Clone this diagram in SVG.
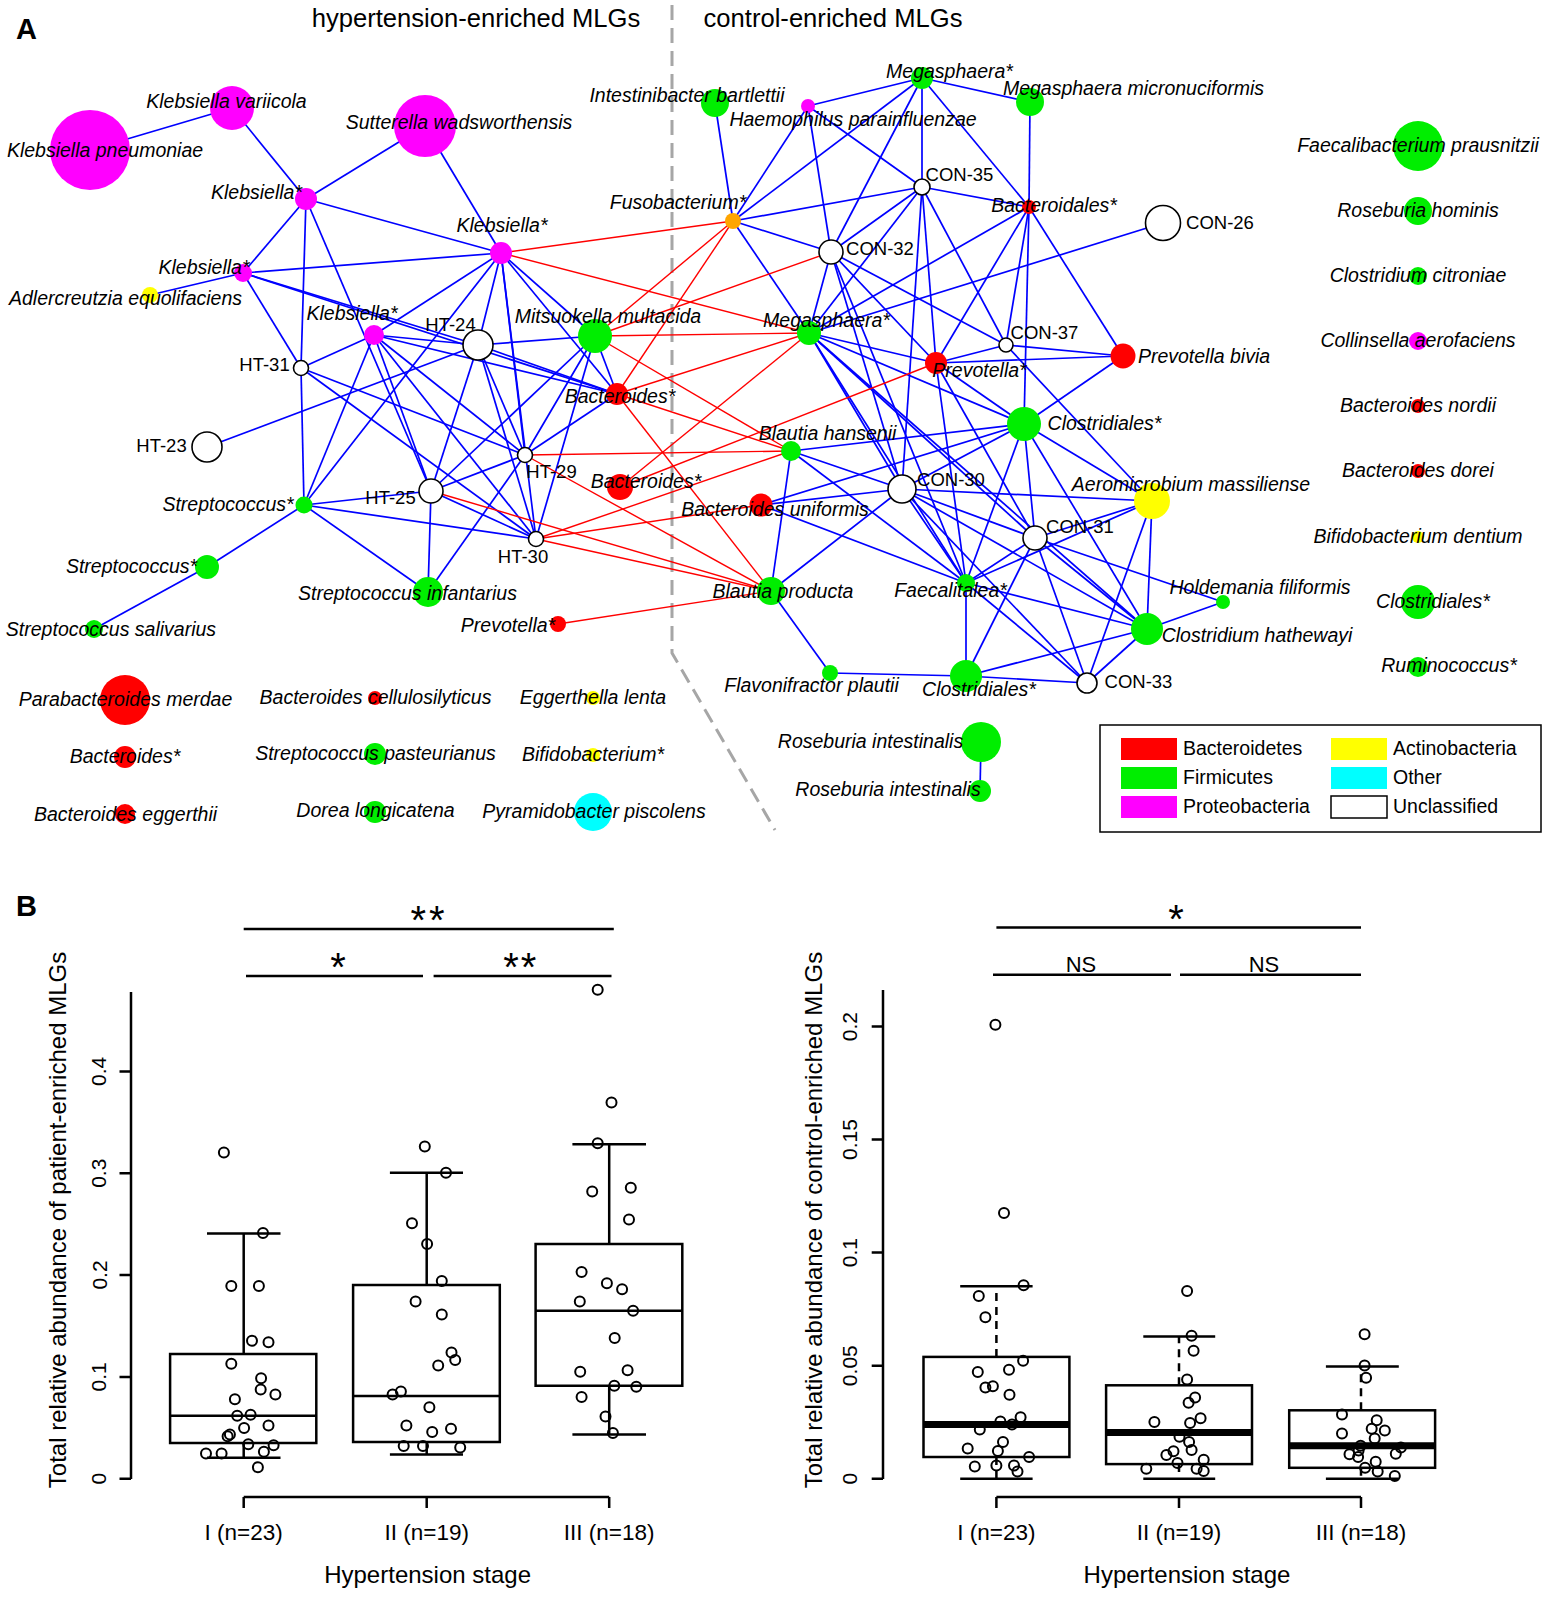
<svg xmlns="http://www.w3.org/2000/svg" width="1548" height="1597" viewBox="0 0 1548 1597">
<style>
text{font-family:"Liberation Sans",Arial,sans-serif;fill:#000}
.i{font-style:italic;font-size:19.5px;text-anchor:middle}
.c{font-size:18.5px;text-anchor:middle}
.h{font-size:25.6px;text-anchor:middle}
.p{font-size:29px;font-weight:bold}
.lg{font-size:19.5px}
.b line{stroke:#0000ff;stroke-width:1.7}
.r line{stroke:#ff0000;stroke-width:1.4}
.mg{fill:#ff00ff}.gr{fill:#00ee00}.rd{fill:#ff0000}.ye{fill:#ffff00}.or{fill:#ffa500}.cy{fill:#00ffff}
.wh{fill:#fff;stroke:#000;stroke-width:1.6}
.ax{stroke:#000;stroke-width:2.5;fill:none}
.bx{stroke:#000;stroke-width:2.5;fill:none}
.pt{fill:none;stroke:#000;stroke-width:2}
.tk{font-size:21px;text-anchor:middle}
.al{font-size:24px;text-anchor:middle}
.cl{font-size:22.5px;text-anchor:middle}
.st{font-size:40px}
.ns{font-size:22px;text-anchor:middle}
.dw{stroke-dasharray:8 6}
</style>

<text class="p" x="16" y="39">A</text>
<text class="h" x="476" y="27">hypertension-enriched MLGs</text>
<text class="h" x="833" y="27">control-enriched MLGs</text>
<polyline points="672,5 672,653 775,830" fill="none" stroke="#a6a6a6" stroke-width="3" stroke-dasharray="15 8"/>

<g id="edges">
<g class="b">
<line x1="90" y1="150" x2="232" y2="108"/>
<line x1="232" y1="108" x2="306" y2="199"/>
<line x1="425" y1="126" x2="306" y2="199"/>
<line x1="425" y1="126" x2="501" y2="253"/>
<line x1="306" y1="199" x2="501" y2="253"/>
<line x1="306" y1="199" x2="243" y2="273"/>
<line x1="306" y1="199" x2="301" y2="368"/>
<line x1="301" y1="368" x2="304" y2="505"/>
<line x1="306" y1="199" x2="431" y2="491"/>
<line x1="243" y1="273" x2="150" y2="295"/>
<line x1="243" y1="273" x2="501" y2="253"/>
<line x1="243" y1="273" x2="301" y2="368"/>
<line x1="243" y1="273" x2="478" y2="345"/>
<line x1="243" y1="273" x2="617" y2="394"/>
<line x1="501" y1="253" x2="374" y2="335"/>
<line x1="501" y1="253" x2="304" y2="505"/>
<line x1="501" y1="253" x2="478" y2="345"/>
<line x1="501" y1="253" x2="525" y2="455"/>
<line x1="501" y1="253" x2="536" y2="539"/>
<line x1="501" y1="253" x2="595" y2="336"/>
<line x1="501" y1="253" x2="617" y2="394"/>
<line x1="374" y1="335" x2="301" y2="368"/>
<line x1="374" y1="335" x2="478" y2="345"/>
<line x1="374" y1="335" x2="617" y2="394"/>
<line x1="374" y1="335" x2="525" y2="455"/>
<line x1="374" y1="335" x2="536" y2="539"/>
<line x1="374" y1="335" x2="431" y2="491"/>
<line x1="374" y1="335" x2="304" y2="505"/>
<line x1="478" y1="345" x2="595" y2="336"/>
<line x1="478" y1="345" x2="207" y2="447"/>
<line x1="478" y1="345" x2="431" y2="491"/>
<line x1="478" y1="345" x2="536" y2="539"/>
<line x1="478" y1="345" x2="525" y2="455"/>
<line x1="478" y1="345" x2="617" y2="394"/>
<line x1="301" y1="368" x2="525" y2="455"/>
<line x1="301" y1="368" x2="536" y2="539"/>
<line x1="304" y1="505" x2="431" y2="491"/>
<line x1="304" y1="505" x2="536" y2="539"/>
<line x1="304" y1="505" x2="428" y2="592"/>
<line x1="304" y1="505" x2="207" y2="567"/>
<line x1="207" y1="567" x2="94" y2="629"/>
<line x1="431" y1="491" x2="525" y2="455"/>
<line x1="431" y1="491" x2="536" y2="539"/>
<line x1="431" y1="491" x2="428" y2="592"/>
<line x1="431" y1="491" x2="595" y2="336"/>
<line x1="428" y1="592" x2="525" y2="455"/>
<line x1="595" y1="336" x2="617" y2="394"/>
<line x1="595" y1="336" x2="525" y2="455"/>
<line x1="595" y1="336" x2="536" y2="539"/>
<line x1="617" y1="394" x2="525" y2="455"/>
<line x1="715" y1="103" x2="733" y2="221"/>
<line x1="808" y1="106" x2="733" y2="221"/>
<line x1="808" y1="106" x2="922" y2="78"/>
<line x1="808" y1="106" x2="922" y2="187"/>
<line x1="808" y1="106" x2="831" y2="252"/>
<line x1="922" y1="78" x2="733" y2="221"/>
<line x1="922" y1="78" x2="831" y2="252"/>
<line x1="922" y1="78" x2="922" y2="187"/>
<line x1="922" y1="78" x2="1030" y2="102"/>
<line x1="922" y1="78" x2="1029" y2="207"/>
<line x1="1030" y1="102" x2="1029" y2="207"/>
<line x1="733" y1="221" x2="922" y2="187"/>
<line x1="733" y1="221" x2="831" y2="252"/>
<line x1="733" y1="221" x2="809" y2="333"/>
<line x1="922" y1="187" x2="831" y2="252"/>
<line x1="922" y1="187" x2="1029" y2="207"/>
<line x1="922" y1="187" x2="809" y2="333"/>
<line x1="922" y1="187" x2="902" y2="489"/>
<line x1="922" y1="187" x2="936" y2="363"/>
<line x1="922" y1="187" x2="1006" y2="345"/>
<line x1="831" y1="252" x2="809" y2="333"/>
<line x1="831" y1="252" x2="1006" y2="345"/>
<line x1="831" y1="252" x2="902" y2="489"/>
<line x1="831" y1="252" x2="936" y2="363"/>
<line x1="831" y1="252" x2="966" y2="583"/>
<line x1="1029" y1="207" x2="809" y2="333"/>
<line x1="1029" y1="207" x2="936" y2="363"/>
<line x1="1029" y1="207" x2="1006" y2="345"/>
<line x1="1029" y1="207" x2="1024" y2="424"/>
<line x1="1029" y1="207" x2="1123" y2="356"/>
<line x1="1163" y1="223" x2="809" y2="333"/>
<line x1="1006" y1="345" x2="936" y2="363"/>
<line x1="1006" y1="345" x2="1123" y2="356"/>
<line x1="1006" y1="345" x2="1152" y2="501"/>
<line x1="936" y1="363" x2="1123" y2="356"/>
<line x1="1123" y1="356" x2="1024" y2="424"/>
<line x1="809" y1="333" x2="936" y2="363"/>
<line x1="809" y1="333" x2="902" y2="489"/>
<line x1="809" y1="333" x2="966" y2="583"/>
<line x1="809" y1="333" x2="1035" y2="538"/>
<line x1="809" y1="333" x2="1024" y2="424"/>
<line x1="809" y1="333" x2="1147" y2="629"/>
<line x1="936" y1="363" x2="1024" y2="424"/>
<line x1="936" y1="363" x2="1035" y2="538"/>
<line x1="936" y1="363" x2="966" y2="583"/>
<line x1="1024" y1="424" x2="791" y2="451"/>
<line x1="1024" y1="424" x2="761" y2="505"/>
<line x1="1024" y1="424" x2="902" y2="489"/>
<line x1="1024" y1="424" x2="966" y2="583"/>
<line x1="1024" y1="424" x2="1035" y2="538"/>
<line x1="1024" y1="424" x2="1152" y2="501"/>
<line x1="1024" y1="424" x2="1147" y2="629"/>
<line x1="791" y1="451" x2="771" y2="591"/>
<line x1="791" y1="451" x2="902" y2="489"/>
<line x1="791" y1="451" x2="966" y2="583"/>
<line x1="761" y1="505" x2="902" y2="489"/>
<line x1="761" y1="505" x2="966" y2="583"/>
<line x1="771" y1="591" x2="902" y2="489"/>
<line x1="771" y1="591" x2="830" y2="673"/>
<line x1="902" y1="489" x2="1152" y2="501"/>
<line x1="902" y1="489" x2="1035" y2="538"/>
<line x1="902" y1="489" x2="966" y2="583"/>
<line x1="902" y1="489" x2="1147" y2="629"/>
<line x1="902" y1="489" x2="1087" y2="683"/>
<line x1="1035" y1="538" x2="1152" y2="501"/>
<line x1="1035" y1="538" x2="966" y2="583"/>
<line x1="1035" y1="538" x2="966" y2="676"/>
<line x1="1035" y1="538" x2="1087" y2="683"/>
<line x1="1035" y1="538" x2="1147" y2="629"/>
<line x1="1035" y1="538" x2="1223" y2="602"/>
<line x1="966" y1="583" x2="1152" y2="501"/>
<line x1="966" y1="583" x2="966" y2="676"/>
<line x1="966" y1="583" x2="1147" y2="629"/>
<line x1="966" y1="583" x2="1087" y2="683"/>
<line x1="1152" y1="501" x2="1147" y2="629"/>
<line x1="1152" y1="501" x2="1087" y2="683"/>
<line x1="1147" y1="629" x2="1223" y2="602"/>
<line x1="1147" y1="629" x2="1087" y2="683"/>
<line x1="1147" y1="629" x2="966" y2="676"/>
<line x1="966" y1="676" x2="1087" y2="683"/>
<line x1="966" y1="676" x2="830" y2="673"/>
<line x1="981" y1="742" x2="980" y2="791"/>
</g>
<g class="r">
<line x1="501" y1="253" x2="733" y2="221"/>
<line x1="501" y1="253" x2="809" y2="333"/>
<line x1="733" y1="221" x2="595" y2="336"/>
<line x1="733" y1="221" x2="617" y2="394"/>
<line x1="831" y1="252" x2="595" y2="336"/>
<line x1="595" y1="336" x2="809" y2="333"/>
<line x1="809" y1="333" x2="617" y2="394"/>
<line x1="595" y1="336" x2="791" y2="451"/>
<line x1="617" y1="394" x2="791" y2="451"/>
<line x1="617" y1="394" x2="771" y2="591"/>
<line x1="809" y1="333" x2="620" y2="487"/>
<line x1="620" y1="487" x2="936" y2="363"/>
<line x1="525" y1="455" x2="791" y2="451"/>
<line x1="525" y1="455" x2="771" y2="591"/>
<line x1="431" y1="491" x2="771" y2="591"/>
<line x1="536" y1="539" x2="771" y2="591"/>
<line x1="536" y1="539" x2="761" y2="505"/>
<line x1="536" y1="539" x2="791" y2="451"/>
<line x1="558" y1="624" x2="771" y2="591"/>
</g>
</g>

<g id="n-KP"><circle class="mg" cx="90" cy="150" r="40"/><text class="i" x="105" y="157">Klebsiella pneumoniae</text></g>
<g id="n-KV"><circle class="mg" cx="232" cy="108" r="22"/><text class="i" x="226.5" y="108">Klebsiella variicola</text></g>
<g id="n-SW"><circle class="mg" cx="425" cy="126" r="31"/><text class="i" x="459" y="129">Sutterella wadsworthensis</text></g>
<g id="n-K1"><circle class="mg" cx="306" cy="199" r="11"/><text class="i" x="256.5" y="199">Klebsiella*</text></g>
<g id="n-K2"><circle class="mg" cx="243" cy="273" r="9"/><text class="i" x="204" y="274">Klebsiella*</text></g>
<g id="n-AE"><circle class="ye" cx="150" cy="295" r="8"/><text class="i" x="125.5" y="305">Adlercreutzia equolifaciens</text></g>
<g id="n-K3"><circle class="mg" cx="501" cy="253" r="11"/><text class="i" x="502" y="232">Klebsiella*</text></g>
<g id="n-K4"><circle class="mg" cx="374" cy="335" r="10"/><text class="i" x="352" y="320">Klebsiella*</text></g>
<g id="n-HT24"><circle class="wh" cx="478" cy="345" r="15"/><text class="c" x="450.5" y="331">HT-24</text></g>
<g id="n-HT31"><circle class="wh" cx="301" cy="368" r="7.5"/><text class="c" x="264.5" y="371">HT-31</text></g>
<g id="n-HT23"><circle class="wh" cx="207" cy="447" r="15"/><text class="c" x="161.5" y="452">HT-23</text></g>
<g id="n-ST1"><circle class="gr" cx="304" cy="505" r="8.5"/><text class="i" x="228" y="511">Streptococcus*</text></g>
<g id="n-ST2"><circle class="gr" cx="207" cy="567" r="12"/><text class="i" x="131.5" y="573">Streptococcus*</text></g>
<g id="n-SS"><circle class="gr" cx="94" cy="629" r="9"/><text class="i" x="111" y="636">Streptococcus salivarius</text></g>
<g id="n-HT25"><circle class="wh" cx="431" cy="491" r="12"/><text class="c" x="390.5" y="504">HT-25</text></g>
<g id="n-SI"><circle class="gr" cx="428" cy="592" r="15"/><text class="i" x="407.5" y="600">Streptococcus infantarius</text></g>
<g id="n-HT29"><circle class="wh" cx="525" cy="455" r="7.5"/><text class="c" x="551.5" y="478">HT-29</text></g>
<g id="n-HT30"><circle class="wh" cx="536" cy="539" r="7.5"/><text class="c" x="523" y="563">HT-30</text></g>
<g id="n-MM"><circle class="gr" cx="595" cy="336" r="17"/><text class="i" x="608" y="323">Mitsuokella multacida</text></g>
<g id="n-BA1"><circle class="rd" cx="617" cy="394" r="11"/><text class="i" x="620" y="403">Bacteroides*</text></g>
<g id="n-BA2"><circle class="rd" cx="620" cy="487" r="13"/><text class="i" x="646" y="488">Bacteroides*</text></g>
<g id="n-PV1"><circle class="rd" cx="558" cy="624" r="8"/><text class="i" x="508" y="632">Prevotella*</text></g>
<g id="n-IB"><circle class="gr" cx="715" cy="103" r="14"/><text class="i" x="687" y="102">Intestinibacter bartlettii</text></g>
<g id="n-HP"><circle class="mg" cx="808" cy="106" r="7"/><text class="i" x="853" y="126">Haemophilus parainfluenzae</text></g>
<g id="n-MG1"><circle class="gr" cx="922" cy="78" r="11"/><text class="i" x="949.5" y="78">Megasphaera*</text></g>
<g id="n-MMi"><circle class="gr" cx="1030" cy="102" r="14"/><text class="i" x="1133.5" y="95">Megasphaera micronuciformis</text></g>
<g id="n-CON35"><circle class="wh" cx="922" cy="187" r="8"/><text class="c" x="959.5" y="181">CON-35</text></g>
<g id="n-FU"><circle class="or" cx="733" cy="221" r="8"/><text class="i" x="678" y="209">Fusobacterium*</text></g>
<g id="n-CON32"><circle class="wh" cx="831" cy="252" r="12"/><text class="c" x="880" y="255">CON-32</text></g>
<g id="n-BD"><circle class="rd" cx="1029" cy="207" r="7"/><text class="i" x="1054" y="212">Bacteroidales*</text></g>
<g id="n-CON26"><circle class="wh" cx="1163" cy="223" r="17.5"/><text class="c" x="1220" y="229">CON-26</text></g>
<g id="n-MG2"><circle class="gr" cx="809" cy="333" r="12"/><text class="i" x="826.5" y="327">Megasphaera*</text></g>
<g id="n-CON37"><circle class="wh" cx="1006" cy="345" r="7"/><text class="c" x="1044.5" y="339">CON-37</text></g>
<g id="n-PV2"><circle class="rd" cx="936" cy="363" r="11"/><text class="i" x="979.5" y="377">Prevotella*</text></g>
<g id="n-PB"><circle class="rd" cx="1123" cy="356" r="12.5"/><text class="i" x="1204" y="363">Prevotella bivia</text></g>
<g id="n-CL1"><circle class="gr" cx="1024" cy="424" r="17"/><text class="i" x="1104.5" y="430">Clostridiales*</text></g>
<g id="n-BH"><circle class="gr" cx="791" cy="451" r="10"/><text class="i" x="827.5" y="440">Blautia hansenii</text></g>
<g id="n-BU"><circle class="rd" cx="761" cy="505" r="11.5"/><text class="i" x="775" y="516">Bacteroides uniformis</text></g>
<g id="n-CON30"><circle class="wh" cx="902" cy="489" r="14"/><text class="c" x="951" y="486">CON-30</text></g>
<g id="n-AM"><circle class="ye" cx="1152" cy="501" r="18"/><text class="i" x="1191" y="491">Aeromicrobium massiliense</text></g>
<g id="n-CON31"><circle class="wh" cx="1035" cy="538" r="12"/><text class="c" x="1080" y="533">CON-31</text></g>
<g id="n-BP"><circle class="gr" cx="771" cy="591" r="14"/><text class="i" x="783" y="598">Blautia producta</text></g>
<g id="n-FA"><circle class="gr" cx="966" cy="583" r="9"/><text class="i" x="950.5" y="597">Faecalitalea*</text></g>
<g id="n-HF"><circle class="gr" cx="1223" cy="602" r="7"/><text class="i" x="1260" y="594">Holdemania filiformis</text></g>
<g id="n-CH"><circle class="gr" cx="1147" cy="629" r="16"/><text class="i" x="1257" y="642">Clostridium hathewayi</text></g>
<g id="n-FP"><circle class="gr" cx="830" cy="673" r="8"/><text class="i" x="811.5" y="692">Flavonifractor plautii</text></g>
<g id="n-CL2"><circle class="gr" cx="966" cy="676" r="16"/><text class="i" x="979" y="696">Clostridiales*</text></g>
<g id="n-CON33"><circle class="wh" cx="1087" cy="683" r="10"/><text class="c" x="1138.5" y="688">CON-33</text></g>
<g id="n-RI1"><circle class="gr" cx="981" cy="742" r="20"/><text class="i" x="870.5" y="748">Roseburia intestinalis</text></g>
<g id="n-RI2"><circle class="gr" cx="980" cy="791" r="11"/><text class="i" x="888" y="796">Roseburia intestinalis</text></g>

<g id="n-PM"><circle class="rd" cx="125" cy="700" r="25"/><text class="i" x="125.5" y="706">Parabacteroides merdae</text></g>
<g id="n-BAs"><circle class="rd" cx="125" cy="757" r="11"/><text class="i" x="125" y="763">Bacteroides*</text></g>
<g id="n-BE"><circle class="rd" cx="125" cy="814" r="10"/><text class="i" x="125.5" y="821">Bacteroides eggerthii</text></g>
<g id="n-BC"><circle class="rd" cx="375" cy="698" r="7"/><text class="i" x="375.5" y="704">Bacteroides cellulosilyticus</text></g>
<g id="n-SP"><circle class="gr" cx="375" cy="754" r="11"/><text class="i" x="375.5" y="760">Streptococcus pasteurianus</text></g>
<g id="n-DL"><circle class="gr" cx="375" cy="812" r="11"/><text class="i" x="375.5" y="817">Dorea longicatena</text></g>
<g id="n-EL"><circle class="ye" cx="593" cy="698" r="7"/><text class="i" x="593" y="704">Eggerthella lenta</text></g>
<g id="n-BF"><circle class="ye" cx="593" cy="755" r="7"/><text class="i" x="593" y="761">Bifidobacterium*</text></g>
<g id="n-PP"><circle class="cy" cx="593" cy="812" r="19"/><text class="i" x="594" y="818">Pyramidobacter piscolens</text></g>

<g id="n-FPr"><circle class="gr" cx="1418" cy="146" r="25"/><text class="i" x="1418" y="152">Faecalibacterium prausnitzii</text></g>
<g id="n-RH"><circle class="gr" cx="1418" cy="211" r="14"/><text class="i" x="1418" y="217">Roseburia hominis</text></g>
<g id="n-CC"><circle class="gr" cx="1418" cy="276" r="9"/><text class="i" x="1418" y="282">Clostridium citroniae</text></g>
<g id="n-CA"><circle class="mg" cx="1418" cy="341" r="9"/><text class="i" x="1418" y="347">Collinsella aerofaciens</text></g>
<g id="n-BN"><circle class="rd" cx="1418" cy="406" r="7"/><text class="i" x="1418" y="412">Bacteroides nordii</text></g>
<g id="n-BDo"><circle class="rd" cx="1418" cy="471" r="7"/><text class="i" x="1418" y="477">Bacteroides dorei</text></g>
<g id="n-BDe"><circle class="ye" cx="1418" cy="537" r="6"/><text class="i" x="1418" y="543">Bifidobacterium dentium</text></g>
<g id="n-CL3"><circle class="gr" cx="1418" cy="602" r="17"/><text class="i" x="1433" y="608">Clostridiales*</text></g>
<g id="n-RU"><circle class="gr" cx="1418" cy="667" r="10"/><text class="i" x="1449" y="672">Ruminococcus*</text></g>

<g id="legend">
<rect x="1100" y="725" width="441" height="107" fill="#fff" stroke="#000" stroke-width="1.5"/>
<rect x="1121" y="738" width="56" height="22" fill="#ff0000"/>
<rect x="1121" y="767" width="56" height="22" fill="#00ee00"/>
<rect x="1121" y="796" width="56" height="22" fill="#ff00ff"/>
<rect x="1331" y="738" width="56" height="22" fill="#ffff00"/>
<rect x="1331" y="767" width="56" height="22" fill="#00ffff"/>
<rect x="1331" y="796" width="56" height="22" fill="#fff" stroke="#000" stroke-width="1.5"/>
<text class="lg" x="1183" y="755">Bacteroidetes</text>
<text class="lg" x="1183" y="784">Firmicutes</text>
<text class="lg" x="1183" y="813">Proteobacteria</text>
<text class="lg" x="1393" y="755">Actinobacteria</text>
<text class="lg" x="1393" y="784">Other</text>
<text class="lg" x="1393" y="813">Unclassified</text>
</g>

<text class="p" x="16" y="916">B</text>

<g id="plot-left">
<path class="ax" d="M131,992 V1479 M131,1478.7 H119.5 M131,1376.9 H119.5 M131,1275 H119.5 M131,1173.2 H119.5 M131,1071.4 H119.5"/>
<text class="tk" transform="rotate(-90 106.5 1478.7)" x="106.5" y="1478.7">0</text>
<text class="tk" transform="rotate(-90 106.5 1376.9)" x="106.5" y="1376.9">0.1</text>
<text class="tk" transform="rotate(-90 106.5 1275)" x="106.5" y="1275">0.2</text>
<text class="tk" transform="rotate(-90 106.5 1173.2)" x="106.5" y="1173.2">0.3</text>
<text class="tk" transform="rotate(-90 106.5 1071.4)" x="106.5" y="1071.4">0.4</text>
<text class="al" transform="rotate(-90 66 1220)" x="66" y="1220">Total relative abundance of patient-enriched MLGs</text>
<path class="ax" d="M243.7,1497 H609.2 M243.7,1497 V1508 M426.7,1497 V1508 M609.2,1497 V1508"/>
<text class="cl" x="243.7" y="1540">I (n=23)</text>
<text class="cl" x="426.7" y="1540">II (n=19)</text>
<text class="cl" x="609.2" y="1540">III (n=18)</text>
<text class="al" x="427.6" y="1583">Hypertension stage</text>
<path class="bx" d="M170.1,1353.9 H316.3 V1442.9 H170.1 Z M170.1,1415.7 H316.3 M243.7,1353.9 V1233.6 M207,1233.6 H280.5 M243.7,1442.9 V1457.8 M207,1457.8 H280.5"/>
<path class="bx" d="M353.1,1285.1 H499.8 V1441.9 H353.1 Z M353.1,1396 H499.8 M426.7,1285.1 V1172.7 M389.9,1172.7 H463 M426.7,1441.9 V1454.6 M389.9,1454.6 H463"/>
<path class="bx" d="M535.6,1243.9 H682.3 V1385.7 H535.6 Z M535.6,1310.8 H682.3 M609.2,1243.9 V1144.2 M572.4,1144.2 H646 M609.2,1385.7 V1434.4 M572.4,1434.4 H646"/>
<g class="pt">
<circle cx="223.9" cy="1152.6" r="5"/><circle cx="263" cy="1233.1" r="5"/><circle cx="231.3" cy="1286" r="5"/><circle cx="258.9" cy="1286" r="5"/><circle cx="252" cy="1340.8" r="5"/><circle cx="268.5" cy="1342.2" r="5"/><circle cx="231.3" cy="1363.7" r="5"/><circle cx="261.1" cy="1378.3" r="5"/><circle cx="260.7" cy="1389.5" r="5"/><circle cx="234.9" cy="1399.3" r="5"/><circle cx="275.4" cy="1394.6" r="5"/><circle cx="237.2" cy="1415.7" r="5"/><circle cx="250.6" cy="1414.8" r="5"/><circle cx="244.1" cy="1427.9" r="5"/><circle cx="268.5" cy="1425.5" r="5"/><circle cx="229.9" cy="1434.4" r="5"/><circle cx="227.6" cy="1436.3" r="5"/><circle cx="248.3" cy="1444.3" r="5"/><circle cx="273.6" cy="1445.2" r="5"/><circle cx="206" cy="1453.6" r="5"/><circle cx="221.6" cy="1453.6" r="5"/><circle cx="263.9" cy="1451.8" r="5"/><circle cx="257.9" cy="1467.2" r="5"/>
<circle cx="424.8" cy="1146.5" r="5"/><circle cx="446" cy="1172.7" r="5"/><circle cx="412" cy="1223.3" r="5"/><circle cx="427.1" cy="1243.9" r="5"/><circle cx="441.8" cy="1280.9" r="5"/><circle cx="415.6" cy="1301.5" r="5"/><circle cx="441.8" cy="1314.6" r="5"/><circle cx="451.5" cy="1352.5" r="5"/><circle cx="455.2" cy="1360" r="5"/><circle cx="438.2" cy="1365.6" r="5"/><circle cx="400.9" cy="1391.4" r="5"/><circle cx="392.6" cy="1394.6" r="5"/><circle cx="429.4" cy="1407.3" r="5"/><circle cx="406.4" cy="1425.5" r="5"/><circle cx="451" cy="1428.8" r="5"/><circle cx="432.2" cy="1432.1" r="5"/><circle cx="403.7" cy="1446.1" r="5"/><circle cx="423" cy="1446.1" r="5"/><circle cx="460.2" cy="1447.6" r="5"/>
<circle cx="597.7" cy="989.7" r="5"/><circle cx="611.5" cy="1102.5" r="5"/><circle cx="597.7" cy="1143.2" r="5"/><circle cx="630.8" cy="1187.7" r="5"/><circle cx="592.2" cy="1191.5" r="5"/><circle cx="629" cy="1219.6" r="5"/><circle cx="581.6" cy="1272" r="5"/><circle cx="606.9" cy="1283.2" r="5"/><circle cx="622.1" cy="1289.3" r="5"/><circle cx="579.8" cy="1301.5" r="5"/><circle cx="633.1" cy="1310.8" r="5"/><circle cx="614.7" cy="1338" r="5"/><circle cx="580.2" cy="1371.7" r="5"/><circle cx="627.6" cy="1370.3" r="5"/><circle cx="614.3" cy="1385.7" r="5"/><circle cx="636.3" cy="1386.7" r="5"/><circle cx="581.6" cy="1397" r="5"/><circle cx="605.5" cy="1416.6" r="5"/><circle cx="612.9" cy="1433" r="5"/>
</g>
<path class="ax" stroke-width="3" d="M243.7,929 H613.8 M246,976 H423 M433.6,976 H611.5"/>
<text class="st" x="410.6" y="934" letter-spacing="2.8">**</text>
<text class="st" x="338" y="981" text-anchor="middle">*</text>
<text class="st" x="503.2" y="981" letter-spacing="2.1">**</text>
</g>

<g id="plot-right">
<path class="ax" d="M883,990 V1479 M883,1478.7 H871.7 M883,1365.7 H871.7 M883,1252.6 H871.7 M883,1139.6 H871.7 M883,1026.6 H871.7"/>
<text class="tk" transform="rotate(-90 857 1478.7)" x="857" y="1478.7">0</text>
<text class="tk" transform="rotate(-90 857 1365.7)" x="857" y="1365.7">0.05</text>
<text class="tk" transform="rotate(-90 857 1252.6)" x="857" y="1252.6">0.1</text>
<text class="tk" transform="rotate(-90 857 1139.6)" x="857" y="1139.6">0.15</text>
<text class="tk" transform="rotate(-90 857 1026.6)" x="857" y="1026.6">0.2</text>
<text class="al" transform="rotate(-90 822 1220)" x="822" y="1220">Total relative abundance of control-enriched MLGs</text>
<path class="ax" d="M996.4,1497 H1361 M996.4,1497 V1508 M1179,1497 V1508 M1361,1497 V1508"/>
<text class="cl" x="996.4" y="1540">I (n=23)</text>
<text class="cl" x="1179" y="1540">II (n=19)</text>
<text class="cl" x="1361" y="1540">III (n=18)</text>
<text class="al" x="1187" y="1583">Hypertension stage</text>
<rect class="bx" x="923.5" y="1356.9" width="145.9" height="100.1"/>
<rect class="bx" x="1106.1" y="1385.3" width="145.9" height="78.8"/>
<rect class="bx" x="1289.2" y="1410.3" width="145.9" height="57.5"/>
<path stroke="#000" stroke-width="7" d="M923.5,1424.4 H1069.4 M1106.1,1432.4 H1252 M1289.2,1445.7 H1435.1"/>
<path class="bx dw" d="M996.4,1356.9 V1286.2 M996.4,1457 V1478.7 M1179,1385.3 V1336.6 M1179,1464.1 V1478.7 M1361,1410.3 V1366.4 M1361,1467.8 V1478.7"/>
<path class="bx" d="M960.2,1286.2 H1032.6 M960.2,1478.7 H1032.6 M1143.3,1336.6 H1215.2 M1143.3,1478.7 H1215.2 M1325.9,1366.4 H1398.8 M1325.9,1478.7 H1398.8"/>
<g class="pt">
<circle cx="995.4" cy="1024.7" r="5"/><circle cx="1004" cy="1213" r="5"/><circle cx="1023.6" cy="1285.2" r="5"/><circle cx="978.8" cy="1296.1" r="5"/><circle cx="985.4" cy="1317.3" r="5"/><circle cx="1023.1" cy="1360.7" r="5"/><circle cx="977.8" cy="1372" r="5"/><circle cx="1009" cy="1369.7" r="5"/><circle cx="985.4" cy="1387.6" r="5"/><circle cx="992.9" cy="1386.2" r="5"/><circle cx="1009.5" cy="1394.7" r="5"/><circle cx="1020.6" cy="1417.3" r="5"/><circle cx="1000.4" cy="1421.6" r="5"/><circle cx="1012" cy="1424.4" r="5"/><circle cx="979.8" cy="1429.6" r="5"/><circle cx="1003" cy="1441.9" r="5"/><circle cx="967.7" cy="1448.5" r="5"/><circle cx="997.9" cy="1450.9" r="5"/><circle cx="1029.1" cy="1457" r="5"/><circle cx="974.8" cy="1466.4" r="5"/><circle cx="996.4" cy="1465.5" r="5"/><circle cx="1014" cy="1465.5" r="5"/><circle cx="1017.5" cy="1471.6" r="5"/>
<circle cx="1187.1" cy="1290.9" r="5"/><circle cx="1191.6" cy="1335.7" r="5"/><circle cx="1193.6" cy="1350.8" r="5"/><circle cx="1187.1" cy="1379.6" r="5"/><circle cx="1195.1" cy="1397.5" r="5"/><circle cx="1188.6" cy="1402.7" r="5"/><circle cx="1200.6" cy="1418.3" r="5"/><circle cx="1154.4" cy="1422" r="5"/><circle cx="1190.1" cy="1423" r="5"/><circle cx="1179.5" cy="1436.7" r="5"/><circle cx="1189.1" cy="1441.9" r="5"/><circle cx="1166.4" cy="1455.1" r="5"/><circle cx="1173.5" cy="1451.3" r="5"/><circle cx="1191.6" cy="1449.9" r="5"/><circle cx="1203.7" cy="1459.8" r="5"/><circle cx="1177.5" cy="1463.1" r="5"/><circle cx="1146.3" cy="1468.8" r="5"/><circle cx="1196.6" cy="1468.8" r="5"/><circle cx="1203.7" cy="1471.1" r="5"/>
<circle cx="1364.6" cy="1334.3" r="5"/><circle cx="1364.6" cy="1365.4" r="5"/><circle cx="1366.1" cy="1377.7" r="5"/><circle cx="1342" cy="1414.5" r="5"/><circle cx="1376.7" cy="1420.2" r="5"/><circle cx="1371.7" cy="1428.7" r="5"/><circle cx="1342" cy="1433.4" r="5"/><circle cx="1384.8" cy="1430.6" r="5"/><circle cx="1374.7" cy="1438.6" r="5"/><circle cx="1360.6" cy="1445.7" r="5"/><circle cx="1358.6" cy="1450.4" r="5"/><circle cx="1400.9" cy="1447.6" r="5"/><circle cx="1395.8" cy="1453.7" r="5"/><circle cx="1349.5" cy="1454.2" r="5"/><circle cx="1358.1" cy="1457" r="5"/><circle cx="1375.7" cy="1461.7" r="5"/><circle cx="1365.1" cy="1467.8" r="5"/><circle cx="1377.7" cy="1471.6" r="5"/><circle cx="1394.8" cy="1475.9" r="5"/>
</g>
<path class="ax" stroke-width="3" d="M996.4,927.5 H1361 M993,974.7 H1171 M1180,974.7 H1361"/>
<text class="st" x="1176" y="933" text-anchor="middle">*</text>
<text class="ns" x="1081" y="972">NS</text>
<text class="ns" x="1264" y="972">NS</text>
</g>
</svg>
